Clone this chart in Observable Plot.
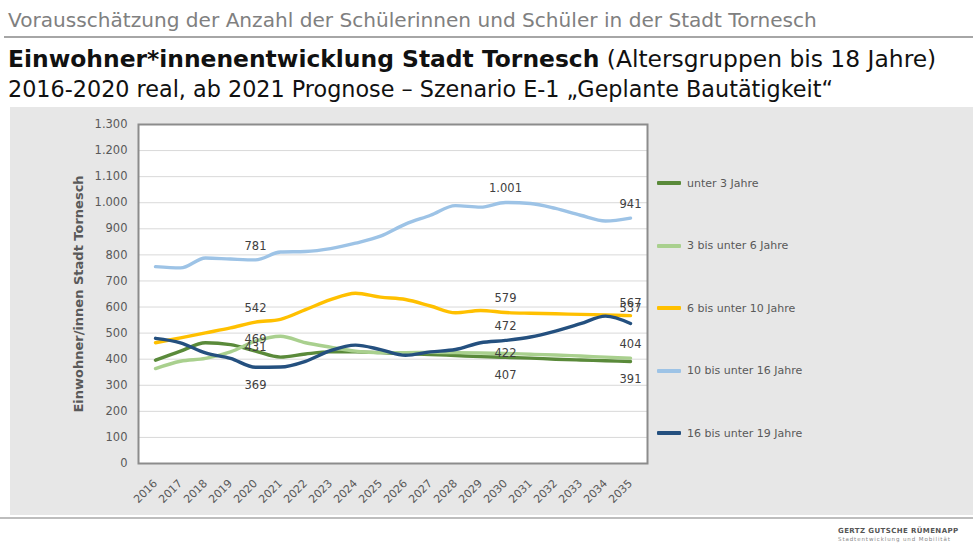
<!DOCTYPE html>
<html>
<head>
<meta charset="utf-8">
<script src="https://cdn.jsdelivr.net/npm/d3@7"></script>
<script src="https://cdn.jsdelivr.net/npm/@observablehq/plot@0.6"></script>
<style>
  body { margin: 0; background: #fff; }
  #root { position: relative; width: 973px; height: 550px; overflow: hidden; background: #fff; font-family: "DejaVu Sans", sans-serif; }
  .hdr { position: absolute; left: 8px; white-space: nowrap; font-family: "DejaVu Sans", sans-serif; }
  #legend { position: absolute; left: 657px; top: 0; }
  .li { position: absolute; left: 0; white-space: nowrap; font-size: 11px; color: #595959; display: flex; align-items: center; }
  .sw { width: 24px; height: 4px; margin-right: 6px; border-radius: 1px; }
</style>
</head>
<body>
<div id="root">
  <div class="hdr" style="top:8px;font-size:20.1px;color:#808080;">Vorausschätzung der Anzahl der Schülerinnen und Schüler in der Stadt Tornesch</div>
  <div style="position:absolute;left:4px;top:36px;width:969px;height:2px;background:#a6a6a6;"></div>
  <div class="hdr" style="top:45px;font-size:23.4px;color:#111;"><b>Einwohner*innenentwicklung Stadt Tornesch</b> (Altersgruppen bis 18 Jahre)</div>
  <div class="hdr" style="top:76px;font-size:22.3px;color:#111;">2016-2020 real, ab 2021 Prognose – Szenario E-1 „Geplante Bautätigkeit“</div>
  <div style="position:absolute;left:10px;top:107px;width:963px;height:408px;background:#e7e7e7;"></div>
  <div style="position:absolute;left:0px;top:517px;width:973px;height:2px;background:#bdbdbd;"></div>
  <div id="chart" style="position:absolute;left:0;top:107px;"></div>
  <div id="legend"></div>
  <div style="position:absolute;left:838px;top:527px;white-space:nowrap;font-size:7px;font-weight:bold;color:#555;letter-spacing:0.4px;">GERTZ GUTSCHE RÜMENAPP</div>
  <div style="position:absolute;left:838px;top:536px;white-space:nowrap;font-size:5.5px;color:#888;letter-spacing:0.9px;">Stadtentwicklung und Mobilität</div>
</div>
<script>
const years = [2016,2017,2018,2019,2020,2021,2022,2023,2024,2025,2026,2027,2028,2029,2030,2031,2032,2033,2034,2035];
const seriesNames = ["unter 3 Jahre","3 bis unter 6 Jahre","6 bis unter 10 Jahre","10 bis unter 16 Jahre","16 bis unter 19 Jahre"];
const under3   = [396,431,463,456,431,408,420,428,428,425,421,418,414,410,407,404,400,397,394,391];
const age3to6  = [364,392,403,428,469,488,463,446,431,425,425,426,425,424,422,419,416,412,408,404];
const age6to10 = [463,482,501,520,542,553,590,628,653,638,629,604,578,587,579,576,574,572,570,567];
const age10to16= [755,750,788,784,781,811,813,824,845,872,918,952,989,983,1001,997,978,952,930,941];
const age16to19= [480,463,424,403,369,370,392,433,454,437,415,428,437,463,472,485,508,536,565,537];
const yTicks = [0,100,200,300,400,500,600,700,800,900,1000,1100,1200,1300];
const labelYears = [2020, 2030, 2035];
const yTitle = "Einwohner/innen Stadt Tornesch";

const colors = ["#5a8a3a","#a9d08e","#ffc000","#9dc3e6","#24507f"];
// label offsets (style): per series, per label year
const labelDy = [
  [-4, 18, 18],
  [-2, 0, -14],
  [-14, -14, -12],
  [-14, -14, -14],
  [18, -14, -15]
];

const valueLists = [under3, age3to6, age6to10, age10to16, age16to19];
const data = [];
valueLists.forEach((vals, si) => vals.forEach((v, i) => data.push({series: seriesNames[si], si, year: years[i], value: v})));
const labels = data.filter(d => labelYears.includes(d.year)).map(d => ({...d, dy: labelDy[d.si][labelYears.indexOf(d.year)]}));

const loc = d3.formatLocale({decimal: ",", thousands: ".", grouping: [3], currency: ["", " €"]});
const fmt = loc.format(",d");

const labelMarks = [];
for (const dyv of [...new Set(labels.map(d => d.dy))]) {
  labelMarks.push(Plot.text(labels.filter(d => d.dy === dyv), {x: "year", y: "value", text: d => fmt(d.value), dy: dyv, fill: "#404040", fontSize: 11.5}));
}

const chart = Plot.plot({
  width: 660,
  height: 408,
  marginLeft: 138,
  marginRight: 13,
  marginTop: 17,
  marginBottom: 52,
  style: {background: "transparent", fontFamily: "DejaVu Sans, sans-serif", color: "#595959", overflow: "visible"},
  x: {type: "point", domain: years, padding: 0.5},
  y: {domain: [0, 1300]},
  marks: [
    Plot.frame({fill: "#fff", stroke: null}),
    Plot.gridY(yTicks, {stroke: "#d9d9d9", strokeOpacity: 1}),
    Plot.axisY({ticks: yTicks, tickFormat: fmt, tickSize: 0, tickPadding: 11, fontSize: 11.5, label: null, fill: "#595959"}),
    Plot.axisX({tickSize: 0, tickPadding: 18, tickRotate: -45, fontSize: 11, label: null, fill: "#595959", tickFormat: d => String(d)}),
    Plot.text([yTitle], {frameAnchor: "left", dx: -60, rotate: -90, textAnchor: "middle", fontWeight: "bold", fontSize: 13, fill: "#595959"}),
    ...seriesNames.map((s, i) => Plot.lineY(data.filter(d => d.si === i), {x: "year", y: "value", stroke: colors[i], strokeWidth: 3.4, curve: "monotone-x"})),
    ...labelMarks,
    Plot.frame({stroke: "#8c8c8c", strokeWidth: 2})
  ]
});
document.getElementById("chart").appendChild(chart);

const legend = document.getElementById("legend");
const legendY = [183, 245.5, 308, 370.5, 433];
seriesNames.forEach((s, i) => {
  const el = document.createElement("div");
  el.className = "li";
  el.style.top = (legendY[i] - 7) + "px";
  el.style.height = "14px";
  el.innerHTML = `<span class="sw" style="background:${colors[i]}"></span><span>${s}</span>`;
  legend.appendChild(el);
});
</script>
</body>
</html>
